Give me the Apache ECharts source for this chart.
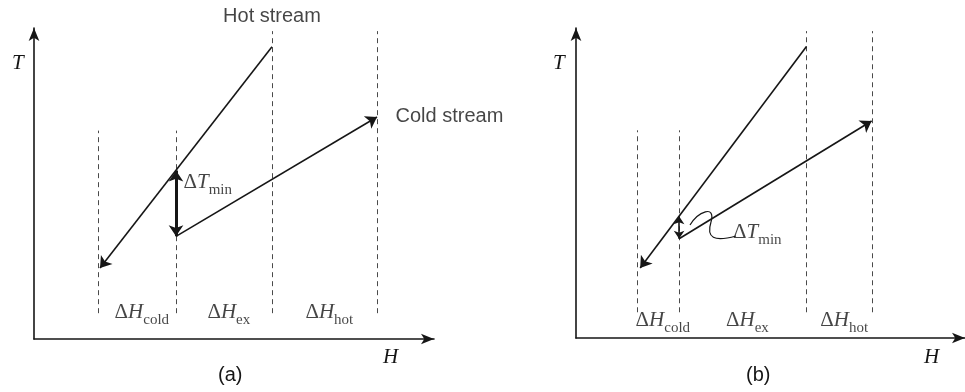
<!DOCTYPE html>
<html>
<head>
<meta charset="utf-8">
<script src="https://cdn.jsdelivr.net/npm/echarts@6/dist/echarts.min.js"></script>
<style>
  html, body { margin: 0; padding: 0; background: #fff; }
  #chart { width: 965px; height: 392px; }
</style>
</head>
<body>
<div id="chart"></div>
<script>
// schematic units: H and T both run 0..100 on each panel

// panel (a): large driving force
const hotA = [[59.5, 94], [16.5, 22.8]]
const coldA = [[35.5, 33], [85.75, 71.4]]
const pinchA = [[35.5, 54.2], [35.5, 33]]
const splitsA = [16, 35.5, 59.5, 85.75]
const splitTopsA = [67, 67, 99, 99]

// panel (b): small driving force
const hotB = [[59.25, 94], [16.5, 22.6]]
const coldB = [[26.5, 32], [76, 70]]
const pinchB = [[26.5, 39.3], [26.5, 32]]
const splitsB = [15.75, 26.5, 59.25, 76.25]
const splitTopsB = [67, 67, 99, 99]

const splitBottom = 8.3
const intervalNames = ['cold', 'ex', 'hot']

const INK = '#161616'
const SERIF = 'Liberation Serif'
const SANS = 'Liberation Sans'

// subscript pushed down with top padding
const mathRich = {
  d: { fontFamily: SERIF, fontSize: 21, color: INK },
  v: { fontFamily: SERIF, fontSize: 21, fontStyle: 'italic', color: INK },
  s: { fontFamily: SERIF, fontSize: 15, color: INK, padding: [14, 0, 0, 0] }
}

function axisPair(gi) {
  let line = {
    show: true,
    onZero: false,
    symbol: ['none', 'arrow'],
    symbolSize: [8, 13],
    lineStyle: { color: INK, width: 1.6 }
  }
  return {
    x: { type: 'value', gridIndex: gi, min: 0, max: 100, axisLine: line,
         axisTick: { show: false }, axisLabel: { show: false }, splitLine: { show: false } },
    y: { type: 'value', gridIndex: gi, min: 0, max: 100, axisLine: line,
         axisTick: { show: false }, axisLabel: { show: false }, splitLine: { show: false } }
  }
}

function arrowLine(coords, gi, width, symbols, size) {
  return {
    type: 'lines',
    coordinateSystem: 'cartesian2d',
    xAxisIndex: gi, yAxisIndex: gi,
    symbol: symbols,
    symbolSize: size,
    silent: true,
    lineStyle: { color: INK, width: width, opacity: 1 },
    data: [{ coords: coords }]
  }
}

function splitLines(splits, tops, gi) {
  return {
    type: 'lines',
    coordinateSystem: 'cartesian2d',
    xAxisIndex: gi, yAxisIndex: gi,
    symbol: 'none',
    silent: true,
    lineStyle: { color: '#4a4a4a', width: 1, type: [5, 4], opacity: 1 },
    data: splits.map((h, i) => ({ coords: [[h, splitBottom], [h, tops[i]]] }))
  }
}

function textMarks(points, gi, label) {
  return {
    type: 'scatter',
    xAxisIndex: gi, yAxisIndex: gi,
    symbolSize: 1,
    silent: true,
    itemStyle: { color: 'rgba(0,0,0,0)' },
    label: Object.assign({ show: true, color: INK }, label),
    data: points
  }
}

function intervalLabels(splits, t, gi) {
  return textMarks(
    intervalNames.map((n, i) => ({ name: n, value: [(splits[i] + splits[i + 1]) / 2 + 1.2, t] })),
    gi,
    { position: 'inside', formatter: p => '{d|Δ}{v|H}{s|' + p.name + '}', rich: mathRich }
  )
}

let axA = axisPair(0), axB = axisPair(1)

let chart = echarts.init(document.getElementById('chart'))
chart.setOption({
  backgroundColor: '#fff',
  animation: false,
  grid: [
    { left: 34, top: 28, width: 400, height: 311 },
    { left: 576, top: 28, width: 400, height: 310 }
  ],
  xAxis: [axA.x, axB.x],
  yAxis: [axA.y, axB.y],
  graphic: [
    { type: 'text', left: 12, top: 53, style: { text: 'T', font: 'italic 21px "Liberation Serif"', fill: INK } },
    { type: 'text', left: 553, top: 53, style: { text: 'T', font: 'italic 21px "Liberation Serif"', fill: INK } },
    { type: 'text', left: 383, top: 347, style: { text: 'H', font: 'italic 21px "Liberation Serif"', fill: INK } },
    { type: 'text', left: 924, top: 347, style: { text: 'H', font: 'italic 21px "Liberation Serif"', fill: INK } },
    { type: 'text', left: 218, top: 365, style: { text: '(a)', font: '20px "Liberation Sans"', fill: INK } },
    { type: 'text', left: 746, top: 365, style: { text: '(b)', font: '20px "Liberation Sans"', fill: INK } },
    // leader squiggle pointing at the small pinch in (b)
    { type: 'bezierCurve', shape: { x1: 690, y1: 225, cpx1: 698, cpy1: 212, cpx2: 716, cpy2: 204, x2: 711, y2: 222 },
      style: { stroke: INK, lineWidth: 1.2, fill: null } },
    { type: 'bezierCurve', shape: { x1: 711, y1: 222, cpx1: 706, cpy1: 238, cpx2: 714, cpy2: 242, x2: 736, y2: 236 },
      style: { stroke: INK, lineWidth: 1.2, fill: null } }
  ],
  series: [
    splitLines(splitsA, splitTopsA, 0),
    splitLines(splitsB, splitTopsB, 1),
    arrowLine(hotA, 0, 1.6, ['none', 'arrow'], 11),
    arrowLine(coldA, 0, 1.6, ['none', 'arrow'], 11),
    arrowLine(pinchA, 0, 3, ['arrow', 'arrow'], 11),
    arrowLine(hotB, 1, 1.6, ['none', 'arrow'], 11),
    arrowLine(coldB, 1, 1.6, ['none', 'arrow'], 11),
    arrowLine(pinchB, 1, 1.6, ['arrow', 'arrow'], 8),
    intervalLabels(splitsA, 8.4, 0),
    intervalLabels(splitsB, 5.5, 1),
    textMarks([{ value: hotA[0] }], 0, {
      position: 'top', distance: 20, formatter: 'Hot stream',
      fontFamily: SANS, fontSize: 20
    }),
    textMarks([{ value: coldA[1] }], 0, {
      position: 'right', distance: 18, formatter: 'Cold stream',
      fontFamily: SANS, fontSize: 20
    }),
    textMarks([{ value: [pinchA[0][0], 50.3] }], 0, {
      position: 'right', distance: 7, formatter: '{d|Δ}{v|T}{s|min}', rich: mathRich
    }),
    textMarks([{ value: [40.25, 33.9] }], 1, {
      position: 'right', distance: 0, formatter: '{d|Δ}{v|T}{s|min}', rich: mathRich
    })
  ]
})
</script>
</body>
</html>
